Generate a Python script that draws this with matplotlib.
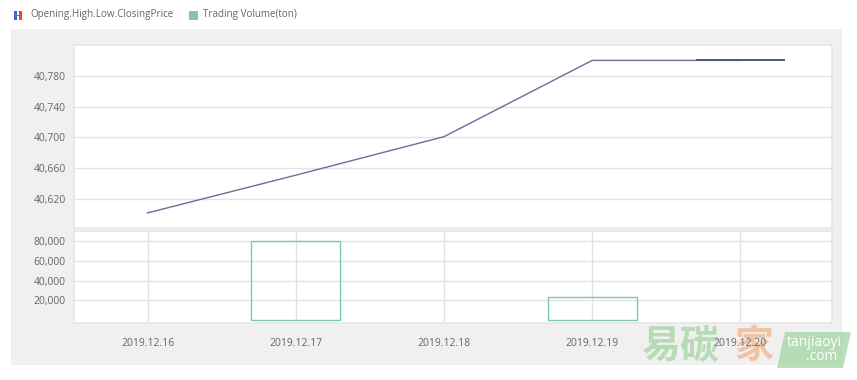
import matplotlib.pyplot as plt
import numpy as np
from matplotlib.patches import Rectangle, Polygon

plt.rcParams['font.family'] = ['Open Sans', 'Noto Sans CJK SC', 'DejaVu Sans']

# 数据
dates = ['2019.12.16', '2019.12.17', '2019.12.18', '2019.12.19', '2019.12.20']
close_price = [40602, 40651, 40701, 40800, 40800]
volume = [0, 80000, 0, 23500, 0]
price_ticks = [40620, 40660, 40700, 40740, 40780]
volume_ticks = [20000, 40000, 60000, 80000]

txt_color = '#666666'
grid_color = '#e3e3e3'
line_color = '#6e6a9a'
candle_color = '#4a5a70'
bar_color = '#7ec4bd'

fig = plt.figure(figsize=(8.57, 3.80), dpi=100)

# 灰色背景面板
fig.patches.append(Rectangle((0.0128, 0.0395), 0.9697, 0.884, transform=fig.transFigure,
                             facecolor='#f0f0f0', edgecolor='none', zorder=-10))

ax = fig.add_axes([0.0858, 0.3992, 0.8854, 0.4824])
ax2 = fig.add_axes([0.0858, 0.1513, 0.8854, 0.2416])

x = np.arange(len(dates))

# 价格线
ax.plot(x, close_price, color=line_color, linewidth=1.0, zorder=3)
# 最后一天的K线 (开盘=收盘)
last = len(dates) - 1
ax.hlines(close_price[last], last - 0.3, last + 0.3, color=candle_color, linewidth=1.4, zorder=4)

ax.set_xlim(-0.5, 4.62)
ax.set_ylim(40582, 40820)
ax.set_yticks(price_ticks)
ax.set_yticklabels([f'{v:,}' for v in price_ticks])
ax.set_xticks([])
ax.grid(axis='y', color=grid_color, linewidth=1)
ax.set_axisbelow(True)

# 成交量柱 (成交量为0的日期不画)
vol = np.array(volume)
has_vol = vol > 0
ax2.bar(x[has_vol], vol[has_vol], width=0.6, facecolor='none', edgecolor=bar_color, linewidth=1.0, zorder=3)
ax2.set_xlim(-0.5, 4.62)
ax2.set_ylim(-2500, 90800)
ax2.set_yticks(volume_ticks)
ax2.set_yticklabels([f'{v:,}' for v in volume_ticks])
ax2.set_xticks(x)
ax2.set_xticklabels(dates)
ax2.grid(color=grid_color, linewidth=1)
ax2.set_axisbelow(True)

for a in (ax, ax2):
    a.set_facecolor('white')
    for s in a.spines.values():
        s.set_color('#e6e6e6')
        s.set_linewidth(1.2)
    a.tick_params(length=0, colors=txt_color, labelsize=7.5)
    a.tick_params(axis='y', pad=5.5)
ax2.tick_params(axis='x', pad=11)

# 图例
fig.patches.append(Rectangle((14 / 857, 1 - 20 / 380), 3 / 857, 9 / 380, transform=fig.transFigure,
                             facecolor='#3a66d8', edgecolor='none'))
fig.patches.append(Rectangle((19 / 857, 1 - 20 / 380), 3 / 857, 9 / 380, transform=fig.transFigure,
                             facecolor='#e8452c', edgecolor='none'))
fig.patches.append(Rectangle((14 / 857, 1 - 16 / 380), 8 / 857, 1.5 / 380, transform=fig.transFigure,
                             facecolor='#e8452c', edgecolor='none'))
fig.text(30 / 857, 1 - 15 / 380, 'Opening.High.Low.ClosingPrice', fontsize=7.1, color=txt_color, va='center')
fig.patches.append(Rectangle((189 / 857, 1 - 20 / 380), 9 / 857, 9 / 380, transform=fig.transFigure,
                             facecolor='#7ec4bd', edgecolor='none'))
fig.text(203 / 857, 1 - 15 / 380, 'Trading Volume(ton)', fontsize=7.1, color=txt_color, va='center')

# 水印
fig.text(641 / 857, 1 - 346 / 380, '易碳', fontsize=28, color='#a8d8a8', alpha=0.8,
         va='center', ha='left', fontweight='bold', family=['Noto Sans CJK SC'], zorder=-5)
fig.text(734 / 857, 1 - 346 / 380, '家', fontsize=28, color='#f0b890', alpha=0.8,
         va='center', ha='left', fontweight='bold', family=['Noto Sans CJK SC'], zorder=-5)
pts = [(777, 368), (843, 368), (851, 332), (785, 332)]
fig.patches.append(Polygon([(px / 857, 1 - py / 380) for px, py in pts], closed=True,
                           transform=fig.transFigure, facecolor='#a8d8a8', edgecolor='none', alpha=0.8))
fig.text(814 / 857, 1 - 342 / 380, 'tanjiaoyi', fontsize=10, color='white', ha='center', va='center')
fig.text(822 / 857, 1 - 357 / 380, '.com', fontsize=10, color='white', ha='center', va='center')

fig.savefig('out.png', dpi=100)
